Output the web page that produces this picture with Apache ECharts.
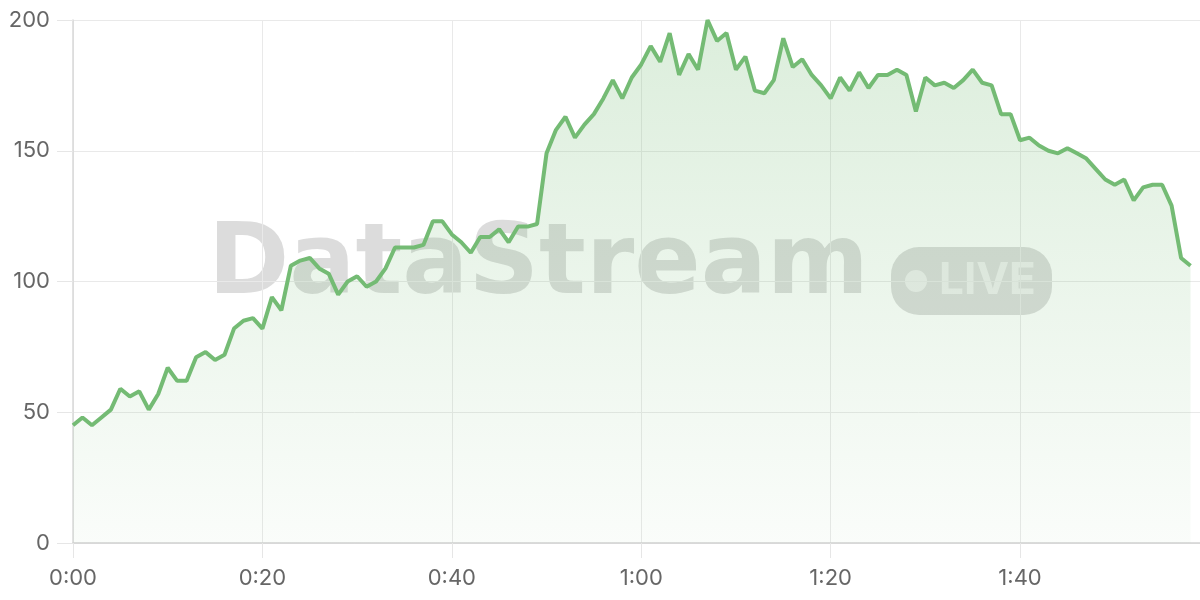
<!DOCTYPE html>
<html>
<head>
<meta charset="utf-8">
<script src="https://cdn.jsdelivr.net/npm/echarts@6/dist/echarts.min.js"></script>
<style>
html,body{margin:0;padding:0;background:#fff;}
#chart{width:1200px;height:600px;}
</style>
</head>
<body>
<div id="chart"></div>
<script>
// Time index categories (m:ss), 0:00 .. 1:59
const categories = [];
for (let i = 0; i < 120; i++) {
  categories.push(Math.floor(i / 60) + ':' + String(i % 60).padStart(2, '0'));
}

const values = [
  45, 48, 45, 48, 51, 59, 56, 58, 51, 57, 67, 62, 62, 71, 73, 70, 72, 82, 85, 86,
  82, 94, 89, 106, 108, 109, 105, 103, 95, 100, 102, 98, 100, 105, 113, 113, 113, 114, 123, 123,
  118, 115, 111, 117, 117, 120, 115, 121, 121, 122, 149, 158, 163, 155, 160, 164, 170, 177, 170, 178,
  183, 190, 184, 195, 179, 187, 181, 200, 192, 195, 181, 186, 173, 172, 177, 193, 182, 185, 179, 175,
  170, 178, 173, 180, 174, 179, 179, 181, 179, 165, 178, 175, 176, 174, 177, 181, 176, 175, 164, 164,
  154, 155, 152, 150, 149, 151, 149, 147, 143, 139, 137, 139, 131, 136, 137, 137, 129, 109, 106
];

const yTicks = [0, 50, 100, 150, 200];
const watermarkText = 'DataStream';
const badgeText = 'LIVE';

const chart = echarts.init(document.getElementById('chart'), null, {renderer: 'canvas'});
const labelColor = '#666';
const fontFamily = 'Inter, "Noto Sans", sans-serif';
const wmFont = '"DejaVu Sans", sans-serif';

chart.setOption({
  animation: false,
  backgroundColor: '#fff',
  grid: {left: 73, right: 0, top: 20, bottom: 57, containLabel: false},
  graphic: [
    {
      type: 'text', z: 0, silent: true,
      style: {
        text: watermarkText, x: 208, y: 268,
        font: 'bold 98px ' + wmFont,
        fill: 'rgba(110,110,110,0.24)',
        textAlign: 'left', textVerticalAlign: 'middle'
      }
    },
    {
      type: 'rect', z: 0, silent: true,
      shape: {x: 891, y: 247, width: 161, height: 68, r: 28},
      style: {fill: 'rgba(110,110,110,0.24)'}
    },
    {
      type: 'circle', z: 0, silent: true,
      shape: {cx: 916, cy: 281, r: 11},
      style: {fill: 'rgba(255,255,255,0.55)'}
    },
    {
      type: 'text', z: 0, silent: true,
      style: {
        text: badgeText, x: 939, y: 281,
        font: 'bold 44px ' + fontFamily,
        fill: 'rgba(255,255,255,0.55)',
        textAlign: 'left', textVerticalAlign: 'middle'
      }
    }
  ],
  xAxis: {
    type: 'category',
    data: categories,
    boundaryGap: false,
    axisLine: {show: true, lineStyle: {color: '#d2d2d2', width: 1.5}},
    axisTick: {show: true, interval: 19, length: 15, lineStyle: {color: '#e6e6e6'}},
    axisLabel: {interval: 19, color: labelColor, fontSize: 22, fontFamily: fontFamily, margin: 24},
    splitLine: {show: true, interval: 19, lineStyle: {color: '#e9e9e9', width: 1}}
  },
  yAxis: {
    type: 'value',
    min: yTicks[0], max: yTicks[yTicks.length - 1], interval: 50,
    axisLine: {show: true, lineStyle: {color: '#d8d8d8', width: 1.5}},
    axisTick: {show: true, length: 16, lineStyle: {color: '#e6e6e6'}},
    axisLabel: {color: labelColor, fontSize: 22, fontFamily: fontFamily, margin: 23},
    splitLine: {show: true, lineStyle: {color: '#e9e9e9', width: 1}}
  },
  series: [{
    type: 'line',
    data: values,
    smooth: false,
    showSymbol: false,
    symbol: 'none',
    z: 2,
    lineStyle: {color: '#74bb74', width: 4},
    areaStyle: {
      color: new echarts.graphic.LinearGradient(0, 0, 0, 1, [
        {offset: 0, color: 'rgba(116,187,116,0.36)'},
        {offset: 1, color: 'rgba(116,187,116,0.05)'}
      ])
    }
  }]
});
</script>
</body>
</html>
